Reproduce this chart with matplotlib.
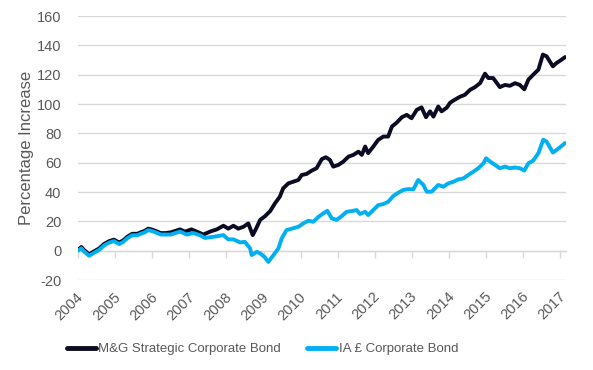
import matplotlib
matplotlib.use("Agg")
import matplotlib.pyplot as plt
import matplotlib.transforms as mtrans
from matplotlib.lines import Line2D

plt.rcParams['font.family'] = ['Liberation Sans', 'DejaVu Sans']
plt.rcParams['axes.unicode_minus'] = False

# ---- data (decimal years, % increase) ----
mg_years = [2004.00, 2004.09, 2004.16, 2004.30, 2004.43, 2004.57, 2004.70, 2004.84, 2004.97,
            2005.11, 2005.22, 2005.33, 2005.46, 2005.60, 2005.69, 2005.80, 2005.89, 2005.98,
            2006.09, 2006.23, 2006.36, 2006.50, 2006.75, 2006.88, 2007.06, 2007.20, 2007.38,
            2007.56, 2007.74, 2007.92, 2008.05, 2008.19, 2008.32, 2008.46, 2008.59, 2008.71,
            2008.80, 2008.91, 2009.04, 2009.18, 2009.31, 2009.44, 2009.53, 2009.67, 2009.80,
            2009.94, 2010.03, 2010.16, 2010.30, 2010.43, 2010.57, 2010.68, 2010.79, 2010.88,
            2011.02, 2011.15, 2011.29, 2011.42, 2011.56, 2011.65, 2011.74, 2011.82, 2011.96,
            2012.09, 2012.23, 2012.36, 2012.46, 2012.59, 2012.73, 2012.86, 2012.99, 2013.13,
            2013.26, 2013.38, 2013.49, 2013.58, 2013.71, 2013.80, 2013.94, 2014.03, 2014.16,
            2014.30, 2014.43, 2014.57, 2014.70, 2014.84, 2014.97, 2015.06, 2015.19, 2015.37,
            2015.51, 2015.64, 2015.78, 2015.91, 2016.03, 2016.14, 2016.27, 2016.41, 2016.53,
            2016.63, 2016.80, 2016.90, 2017.01, 2017.13]
mg_values = [0.5, 2.5, 0.5, -2.5, -0.5, 1.5, 4.5, 6.5, 7.5,
             5.5, 7.0, 9.5, 11.5, 11.5, 12.5, 13.5, 15.0, 14.5,
             13.5, 12.0, 12.0, 12.5, 14.5, 13.0, 14.5, 13.0, 11.0,
             13.0, 14.5, 17.0, 15.0, 17.0, 15.0, 16.3, 18.6, 10.6,
             15.0, 21.0, 23.5, 27.0, 32.3, 36.8, 42.5, 45.9, 47.0,
             48.2, 51.6, 52.3, 54.6, 56.2, 62.4, 63.7, 61.9, 57.3,
             58.5, 60.7, 64.1, 65.3, 67.5, 65.3, 71.0, 66.5, 71.0,
             75.5, 77.8, 77.8, 84.6, 87.3, 91.0, 92.6, 90.3, 96.0,
             97.7, 91.0, 95.0, 91.4, 98.3, 95.0, 97.5, 100.9, 103.0,
             105.0, 106.3, 109.7, 111.5, 114.3, 120.7, 117.7, 117.7, 111.5,
             113.0, 112.4, 114.2, 113.0, 110.0, 116.6, 120.0, 123.4, 133.7,
             132.5, 125.7, 128.0, 129.8, 132.0]

ia_years = [2004.00, 2004.09, 2004.16, 2004.30, 2004.43, 2004.57, 2004.70, 2004.84, 2004.97,
            2005.11, 2005.22, 2005.33, 2005.46, 2005.60, 2005.69, 2005.80, 2005.89, 2005.98,
            2006.09, 2006.23, 2006.36, 2006.50, 2006.75, 2006.93, 2007.11, 2007.28, 2007.42,
            2007.64, 2007.92, 2008.05, 2008.19, 2008.37, 2008.50, 2008.64, 2008.68, 2008.82,
            2008.92, 2009.04, 2009.13, 2009.27, 2009.40, 2009.49, 2009.62, 2009.76, 2009.94,
            2010.07, 2010.21, 2010.34, 2010.48, 2010.61, 2010.72, 2010.84, 2010.97, 2011.11,
            2011.24, 2011.38, 2011.51, 2011.60, 2011.74, 2011.82, 2011.96, 2012.09, 2012.23,
            2012.36, 2012.50, 2012.63, 2012.77, 2012.90, 2013.04, 2013.17, 2013.31, 2013.40,
            2013.53, 2013.71, 2013.85, 2013.98, 2014.12, 2014.25, 2014.39, 2014.52, 2014.66,
            2014.79, 2014.93, 2015.00, 2015.11, 2015.24, 2015.37, 2015.51, 2015.64, 2015.78,
            2015.91, 2016.03, 2016.14, 2016.27, 2016.41, 2016.54, 2016.63, 2016.80, 2016.90,
            2017.04, 2017.13]
ia_values = [0.0, 1.5, -0.5, -3.5, -1.5, 0.5, 3.5, 5.5, 6.5,
             4.5, 6.0, 8.5, 10.5, 10.5, 11.5, 12.5, 14.0, 13.5,
             12.5, 11.0, 11.0, 11.0, 13.0, 11.0, 12.0, 10.6, 8.7,
             9.4, 10.6, 7.7, 7.7, 5.6, 6.0, 1.5, -3.0, -0.8,
             -2.0, -4.6, -7.7, -3.0, 1.5, 8.3, 14.0, 15.0, 16.3,
             18.6, 20.4, 19.7, 23.0, 25.4, 27.2, 22.0, 21.0, 23.6,
             26.5, 27.0, 27.7, 25.0, 26.5, 24.3, 27.7, 31.0, 31.8,
             33.3, 37.3, 39.5, 41.4, 42.0, 41.8, 48.2, 44.8, 40.2,
             40.2, 44.8, 43.6, 45.9, 47.0, 48.6, 49.3, 51.6, 53.9,
             56.2, 59.6, 63.0, 60.7, 58.5, 56.2, 57.3, 56.2, 56.7,
             56.2, 54.6, 59.6, 61.4, 66.5, 75.6, 74.4, 66.9, 68.7,
             71.5, 73.4]

series_names = ["M&G Strategic Corporate Bond", "IA £ Corporate Bond"]
series_colors = ["#0b0b24", "#00b0f0"]
year_ticks = list(range(2004, 2018))
y_ticks = list(range(-20, 161, 20))

W, H = 593, 370
fig = plt.figure(figsize=(W / 100, H / 100), dpi=100)
ax = fig.add_axes([78 / W, 1 - 280 / H, (565.5 - 78) / W, (280 - 16) / H])
ax.set_xlim(2004, 2017.14)
ax.set_ylim(-20, 160)
for s in ax.spines.values():
    s.set_visible(False)

text_color = "#595959"
grid_color = "#d9d9d9"

ax.set_yticks(y_ticks)
ax.grid(axis='y', color=grid_color, linewidth=1)
ax.set_axisbelow(True)
ax.tick_params(axis='y', length=0, pad=12, labelsize=10.5, labelcolor=text_color)

ax.set_xticks(year_ticks)
ax.set_xticklabels([str(y) for y in year_ticks], rotation=45, ha='right',
                   rotation_mode='anchor', va='center')
ax.tick_params(axis='x', length=0, pad=10.5, labelsize=10.5, labelcolor=text_color)
offset = mtrans.ScaledTranslation(3 / 100, 0, fig.dpi_scale_trans)
for lbl in ax.get_xticklabels():
    lbl.set_transform(lbl.get_transform() + offset)

# zero axis line with ticks
sec = ax.secondary_xaxis(20 / 180)
sec.set_xticks(year_ticks)
sec.tick_params(axis='x', length=5, width=1, color=grid_color, labelbottom=False, labeltop=False)
for s in sec.spines.values():
    s.set_color(grid_color)
    s.set_linewidth(1)

ax.plot(mg_years, mg_values, color=series_colors[0], lw=2.8, solid_joinstyle='round',
        solid_capstyle='round', zorder=3)
ax.plot(ia_years, ia_values, color=series_colors[1], lw=2.8, solid_joinstyle='round',
        solid_capstyle='round', zorder=4)

ax.set_ylabel("Percentage Increase", fontsize=12, color=text_color)
ax.yaxis.set_label_coords((27 - 78) / 487.5, 0.5)
ax.yaxis.label.set_va('center')

handles = [Line2D([], [], color=c, lw=3.5, solid_capstyle='round') for c in series_colors]
fig.legend(handles, series_names, loc='center', bbox_to_anchor=(262.5 / W, 1 - 349 / H),
           ncol=2, frameon=False, fontsize=9.5, handlelength=2.2, handletextpad=0.2,
           columnspacing=2.0, labelcolor=text_color)

fig.savefig("out.png", dpi=100)
